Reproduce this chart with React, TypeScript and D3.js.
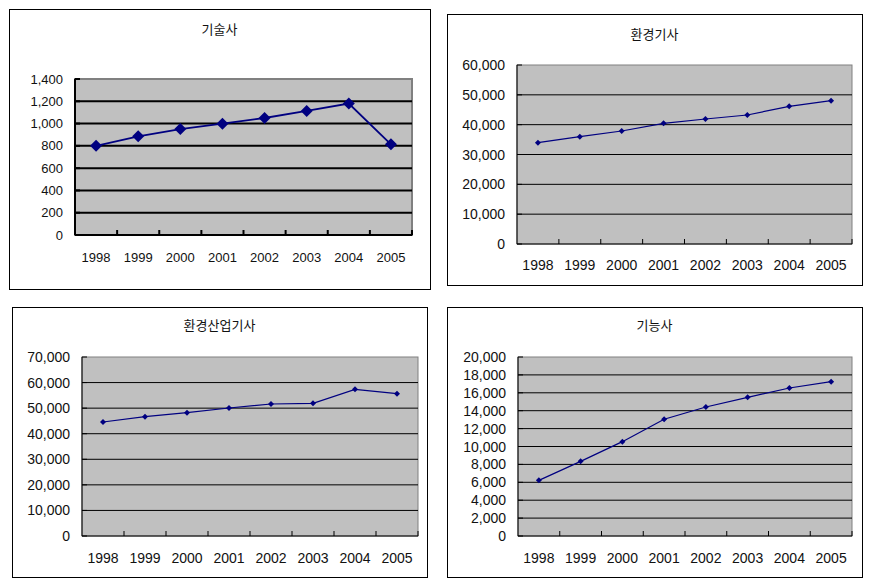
import React from "react";
import * as d3 from "d3";

const years = ["1998", "1999", "2000", "2001", "2002", "2003", "2004", "2005"];
const titles = ["기술사", "환경기사", "환경산업기사", "기능사"];
const seriesGisulsa = [800, 886, 951, 999, 1050, 1113, 1180, 814];
const seriesHwangyeongGisa = [33950, 35970, 37880, 40450, 41900, 43240, 46150, 48030];
const seriesHwangyeongSanup = [44580, 46670, 48230, 50060, 51620, 51880, 57360, 55660];
const seriesGineungsa = [6220, 8340, 10540, 13040, 14410, 15490, 16540, 17240];
const yMax = [1400, 60000, 70000, 20000];
const yStep = [200, 10000, 10000, 2000];

type PanelCfg = {
  title: string;
  values: number[];
  max: number;
  step: number;
  box: [number, number, number, number];
  plot: [number, number, number, number];
  titleY: number;
  xLabelY: number;
  fontSize: number;
  gridW: number;
  lineW: number;
  marker: number;
  frameW: number;
};

const panels: PanelCfg[] = [
  { title: titles[0], values: seriesGisulsa, max: yMax[0], step: yStep[0], box: [9, 9, 430, 289], plot: [75, 79, 412, 235], titleY: 28, xLabelY: 257, fontSize: 13, gridW: 2, lineW: 1.8, marker: 6, frameW: 2 },
  { title: titles[1], values: seriesHwangyeongGisa, max: yMax[1], step: yStep[1], box: [447, 14, 862, 285], plot: [517, 65, 852, 244], titleY: 33, xLabelY: 265, fontSize: 14, gridW: 1, lineW: 1.2, marker: 3, frameW: 1 },
  { title: titles[2], values: seriesHwangyeongSanup, max: yMax[2], step: yStep[2], box: [12, 307, 427, 577], plot: [82, 357, 418, 536], titleY: 324, xLabelY: 558, fontSize: 14, gridW: 1, lineW: 1.2, marker: 3, frameW: 1 },
  { title: titles[3], values: seriesGineungsa, max: yMax[3], step: yStep[3], box: [447, 307, 862, 577], plot: [518, 357, 852, 536], titleY: 324, xLabelY: 558, fontSize: 14, gridW: 1, lineW: 1.2, marker: 3, frameW: 1 },
];

const numFont = "'Liberation Sans', Arial, sans-serif";
const krFont = "'Noto Sans CJK KR', sans-serif";
const fmt = d3.format(",");

function Panel({ c }: { c: PanelCfg }) {
  const [bx0, by0, bx1, by1] = c.box;
  const [px0, py0, px1, py1] = c.plot;
  const x = d3.scaleBand<string>().domain(years).range([px0, px1]).padding(0);
  const y = d3.scaleLinear().domain([0, c.max]).range([py1, py0]);
  const ticks = d3.range(0, c.max + c.step / 2, c.step);
  const pts = c.values.map((v, i) => [x(years[i])! + x.bandwidth() / 2, y(v)] as [number, number]);
  const line = d3.line()(pts) || "";
  const m = c.marker;
  return (
    <g>
      <rect x={bx0 + 0.5} y={by0 + 0.5} width={bx1 - bx0} height={by1 - by0} fill="#fff" stroke="#000" strokeWidth={1} />
      <text x={(bx0 + bx1) / 2} y={c.titleY} textAnchor="middle" dominantBaseline="central" fontFamily={krFont} fontSize={13} fill="#111">{c.title}</text>
      <rect x={px0} y={py0} width={px1 - px0} height={py1 - py0} fill="#c0c0c0" stroke="#808080" strokeWidth={c.frameW} />
      {ticks.filter((t) => t > 0 && t < c.max).map((t) => (
        <line key={"g" + t} x1={px0} x2={px1} y1={y(t)} y2={y(t)} stroke="#000" strokeWidth={c.gridW} />
      ))}
      {ticks.map((t) => (
        <text key={"l" + t} x={px0 - 12} y={y(t)} textAnchor="end" dominantBaseline="central" fontFamily={numFont} fontSize={c.fontSize} fill="#111">{fmt(t)}</text>
      ))}
      {ticks.map((t) => (
        <line key={"yt" + t} x1={px0} x2={px0 + 5} y1={y(t)} y2={y(t)} stroke="#000" strokeWidth={c.gridW} />
      ))}
      {years.map((yr) => (
        <line key={"xt" + yr} x1={x(yr)! + x.bandwidth()} x2={x(yr)! + x.bandwidth()} y1={py1} y2={py1 - 5} stroke="#000" strokeWidth={c.gridW} />
      ))}
      <line x1={px0} x2={px0} y1={py0} y2={py1} stroke="#000" strokeWidth={c.gridW} />
      <line x1={px0} x2={px1} y1={py1} y2={py1} stroke="#000" strokeWidth={c.gridW} />
      {years.map((yr) => (
        <text key={"xl" + yr} x={x(yr)! + x.bandwidth() / 2} y={c.xLabelY} textAnchor="middle" dominantBaseline="central" fontFamily={numFont} fontSize={c.fontSize} fill="#111">{yr}</text>
      ))}
      <path d={line} fill="none" stroke="#000080" strokeWidth={c.lineW} />
      {pts.map(([px, py], i) => (
        <path key={"m" + i} d={`M${px},${py - m}L${px + m},${py}L${px},${py + m}L${px - m},${py}Z`} fill="#000080" />
      ))}
    </g>
  );
}

export default function App() {
  return (
    <svg width={872} height={583} style={{ position: "absolute", left: 0, top: 0, background: "#fff" }}>
      <rect width={872} height={583} fill="#fff" />
      {panels.map((c) => (
        <Panel key={c.title} c={c} />
      ))}
    </svg>
  );
}
